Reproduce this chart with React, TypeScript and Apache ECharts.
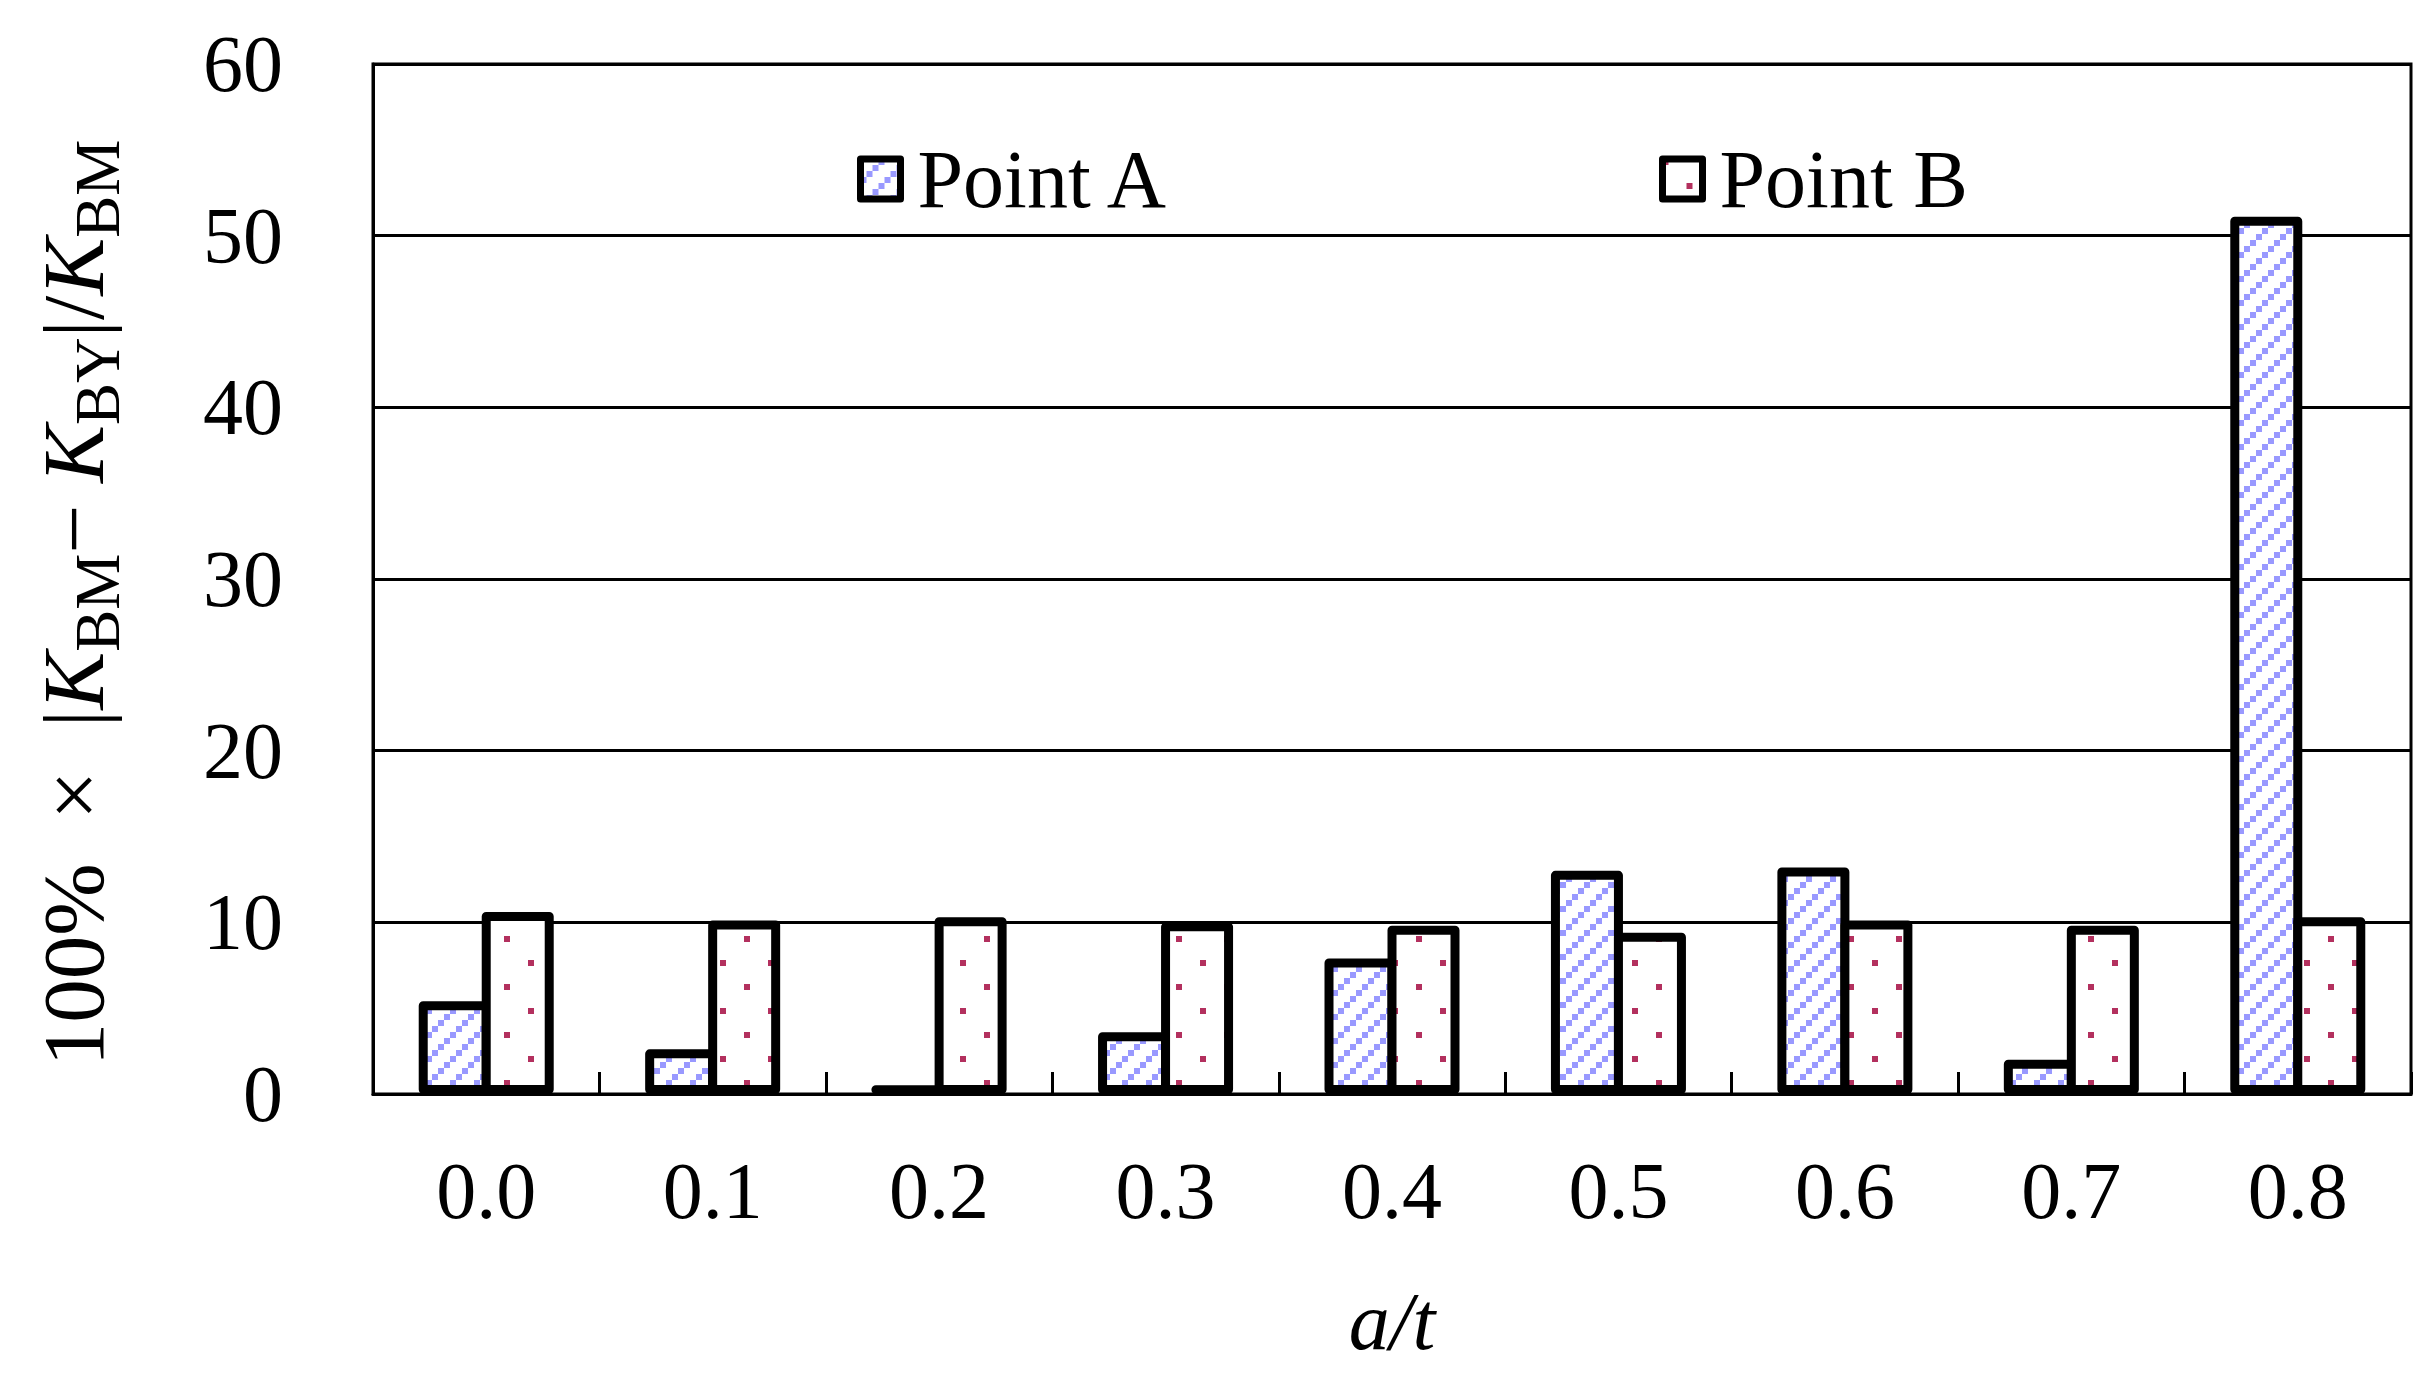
import React, { useEffect, useRef } from 'react';
import * as echarts from 'echarts';

const categories = ['0.0', '0.1', '0.2', '0.3', '0.4', '0.5', '0.6', '0.7', '0.8'];
const pointA = [5.4, 2.6, 0.5, 3.6, 7.9, 13.0, 13.2, 2.0, 51.1];
const pointB = [10.6, 10.1, 10.3, 10.0, 9.8, 9.4, 10.1, 9.8, 10.3];
const seriesNames = ['Point A', 'Point B'];
const yMin = 0;
const yMax = 60;
const yInterval = 10;

const SERIF = '"Liberation Serif", "Times New Roman", serif';

function makeTile(size: number, color: string, cells: number[][], cell: number) {
  const c = document.createElement('canvas');
  c.width = size;
  c.height = size;
  const ctx = c.getContext('2d')!;
  ctx.fillStyle = '#ffffff';
  ctx.fillRect(0, 0, size, size);
  ctx.fillStyle = color;
  cells.forEach(([x, y]) => ctx.fillRect(x, y, cell, cell));
  return c;
}

export default function App() {
  const ref = useRef<HTMLDivElement>(null);
  useEffect(() => {
    document.body.style.margin = '0';
    const el = ref.current!;
    const chart = echarts.init(el, undefined, { renderer: 'svg' });

    const tileA = makeTile(24, '#9999ff', [[0, 18], [6, 12], [12, 6], [18, 0]], 6);
    const tileB = makeTile(48, '#b3305e', [[0, 0], [24, 24]], 6);
    const patA: any = { image: tileA, repeat: 'repeat', imageWidth: 24, imageHeight: 24 };
    const patB: any = { image: tileB, repeat: 'repeat', imageWidth: 48, imageHeight: 48 };

    const barStyle = (pat: any) => ({
      color: pat,
      borderColor: '#000',
      borderWidth: 9,
      borderJoin: 'round',
    });

    const legendBase = {
      icon: 'rect',
      itemWidth: 40,
      itemHeight: 40,
      top: 133,
      itemStyle: { borderColor: '#000', borderWidth: 7, borderJoin: 'round' },
      textStyle: {
        fontFamily: SERIF,
        fontSize: 82,
        lineHeight: 82,
        color: '#000',
        padding: [0, 0, 0, 12],
      },
    };

    const option: any = {
      animation: false,
      backgroundColor: '#fff',
      grid: {
        left: 373,
        right: 16,
        top: 64,
        bottom: 294,
        show: true,
        borderColor: '#000',
        borderWidth: 3,
        backgroundColor: 'transparent',
      },
      legend: [
        { ...legendBase, data: [seriesNames[0]], left: 852 },
        { ...legendBase, data: [seriesNames[1]], left: 1654 },
      ],
      xAxis: {
        type: 'category',
        data: categories,
        name: 'a/t',
        nameLocation: 'middle',
        nameGap: 186,
        nameTextStyle: {
          fontFamily: SERIF,
          fontStyle: 'italic',
          fontSize: 82,
          lineHeight: 82,
          color: '#000',
        },
        axisLine: { show: true, lineStyle: { color: '#000', width: 3 } },
        axisTick: {
          show: true,
          inside: true,
          length: 22,
          interval: 0,
          lineStyle: { color: '#000', width: 3 },
        },
        axisLabel: {
          fontFamily: SERIF,
          fontSize: 80,
          lineHeight: 80,
          color: '#000',
          margin: 57,
          interval: 0,
        },
      },
      yAxis: {
        type: 'value',
        min: yMin,
        max: yMax,
        interval: yInterval,
        name:
          '{n|100%  ×  |}{k|K}{s|BM}{n|− }{k|K}{s|BY}{n||/}{k|K}{s|BM}',
        nameLocation: 'middle',
        nameRotate: 90,
        nameGap: 256,
        nameTextStyle: {
          padding: [0, 48, 0, 0],
          rich: {
            n: {
              fontFamily: SERIF,
              fontSize: 87,
              lineHeight: 87,
              color: '#000',
              verticalAlign: 'top',
            },
            k: {
              fontFamily: SERIF,
              fontStyle: 'italic',
              fontSize: 87,
              lineHeight: 87,
              color: '#000',
              verticalAlign: 'top',
            },
            s: {
              fontFamily: SERIF,
              fontSize: 63,
              lineHeight: 63,
              color: '#000',
              verticalAlign: 'top',
              padding: [36, 0, 0, 0],
            },
          },
        },
        axisLine: { show: true, lineStyle: { color: '#000', width: 3 } },
        axisTick: { show: false },
        splitLine: { show: true, lineStyle: { color: '#000', width: 3 } },
        axisLabel: {
          fontFamily: SERIF,
          fontSize: 80,
          color: '#000',
          margin: 90,
        },
      },
      series: [
        {
          name: seriesNames[0],
          type: 'bar',
          data: pointA,
          barWidth: 72,
          barGap: '-12.5%',
          itemStyle: barStyle(patA),
        },
        {
          name: seriesNames[1],
          type: 'bar',
          data: pointB,
          barWidth: 72,
          barGap: '-12.5%',
          itemStyle: barStyle(patB),
        },
      ],
    };
    chart.setOption(option);
    return () => chart.dispose();
  }, []);
  return <div ref={ref} style={{ width: 2427, height: 1388 }} />;
}
